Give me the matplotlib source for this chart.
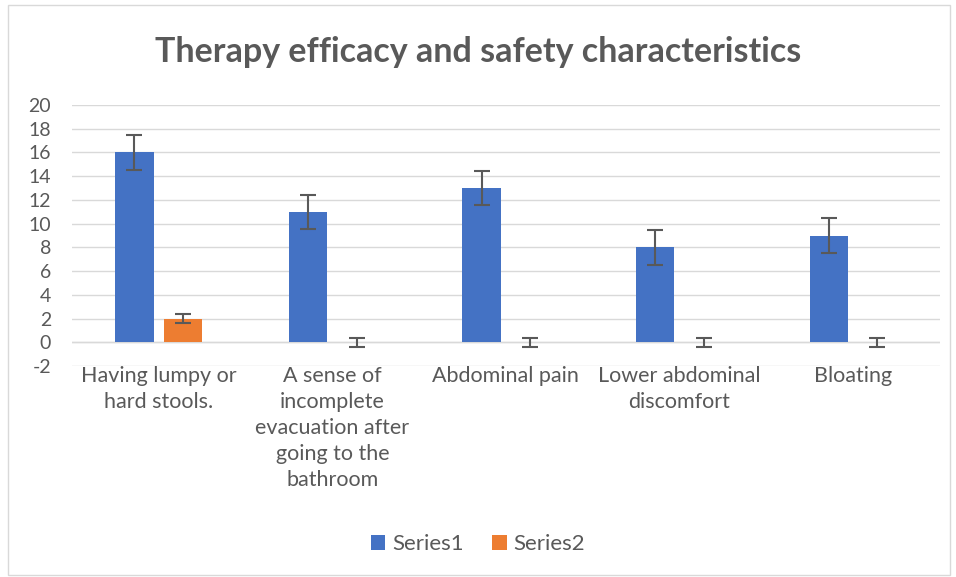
import numpy as np
import matplotlib.pyplot as plt
from matplotlib.patches import Rectangle

# chart values
categories = ["Having lumpy or\nhard stools.",
              "A sense of\nincomplete\nevacuation after\ngoing to the\nbathroom",
              "Abdominal pain",
              "Lower abdominal\ndiscomfort",
              "Bloating"]
series1 = [16, 11, 13, 8, 9]
series2 = [2, 0, 0, 0, 0]
err1 = [1.45, 1.45, 1.45, 1.45, 1.45]
err2 = [0.4, 0.4, 0.4, 0.4, 0.4]
yticks = list(range(-2, 21, 2))

plt.rcParams['font.family'] = ['Lato', 'DejaVu Sans']
grey = '#595959'

fig = plt.figure(figsize=(9.56, 5.77), dpi=100)
ax = fig.add_axes([0.0753, 0.3657, 0.9077, 0.4523])

x = np.arange(len(categories))
w = 0.22
off = 0.14
ax.bar(x - off, series1, w, color='#4472C4', label='Series1', zorder=2)
ax.bar(x + off, series2, w, color='#ED7D31', label='Series2', zorder=2)
ax.errorbar(x - off, series1, yerr=err1, fmt='none', ecolor=grey,
            elinewidth=1.5, capsize=6, capthick=1.5, zorder=3)
ax.errorbar(x + off, series2, yerr=err2, fmt='none', ecolor=grey,
            elinewidth=1.5, capsize=6, capthick=1.5, zorder=3)

ax.set_xlim(-0.5, len(categories) - 0.5)
ax.set_ylim(-2, 20)
ax.set_yticks(yticks)
ax.set_yticklabels([str(t) for t in yticks])
ax.yaxis.grid(True, color='#d9d9d9', linewidth=1)
ax.set_axisbelow(True)
for s in ax.spines.values():
    s.set_visible(False)
ax.tick_params(axis='y', length=0, labelsize=14, colors=grey, pad=15)
ax.tick_params(axis='x', length=0)
ax.set_xticks(x)
ax.set_xticklabels([])
ax.axhline(0, color='#d9d9d9', linewidth=1, zorder=1)

for xi, lab in zip(x, categories):
    ax.text(xi, -2.0, lab, ha='center', va='top', fontsize=15.5, color=grey,
            linespacing=1.38)

fig.text(0.5, 0.91, "Therapy efficacy and safety characteristics", ha='center',
         va='center', fontsize=24.5, fontweight='bold', color=grey)

fig.legend(loc='center', bbox_to_anchor=(0.5, 0.057), ncol=2, frameon=False,
           fontsize=16, labelcolor=grey, handlelength=0.65, handleheight=0.65,
           columnspacing=1.3, handletextpad=0.3)

fig.patches.append(Rectangle((0.008, 0.004), 0.986, 0.988, transform=fig.transFigure,
                             fill=False, edgecolor='#d9d9d9', linewidth=1))

fig.savefig('out.png', dpi=100)
